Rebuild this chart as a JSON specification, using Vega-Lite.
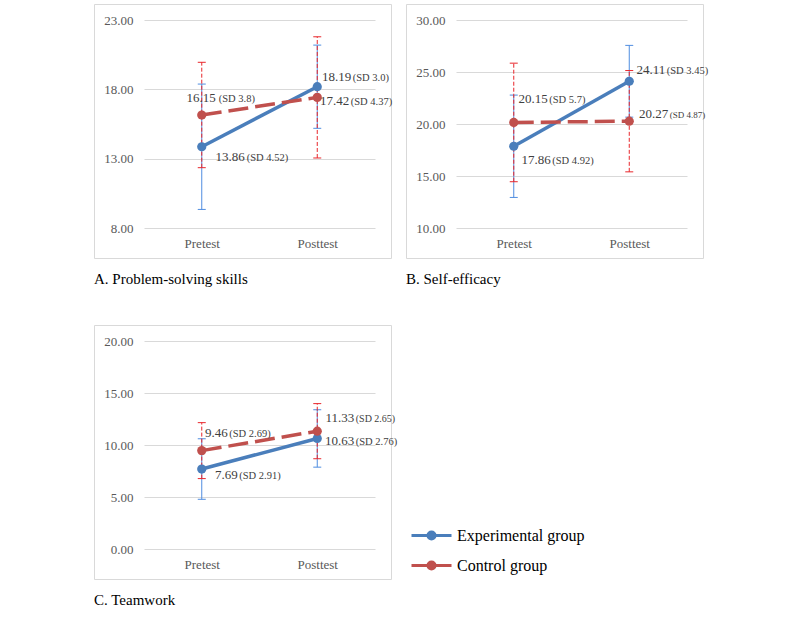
{
  "$schema": "https://vega.github.io/schema/vega-lite/v6.json",
  "background": "white",
  "padding": {"left": 93, "top": 3, "right": 5, "bottom": 5},
  "datasets": {
    "d": [
      {"panel": "A", "group": "Experimental group", "time": "Pretest", "mean": 13.86, "lo": 9.34, "hi": 18.38, "sdl": "(SD 4.52)"},
      {"panel": "A", "group": "Experimental group", "time": "Posttest", "mean": 18.19, "lo": 15.19, "hi": 21.19, "sdl": "(SD 3.0)"},
      {"panel": "A", "group": "Control group", "time": "Pretest", "mean": 16.15, "lo": 12.35, "hi": 19.95, "sdl": "(SD 3.8)"},
      {"panel": "A", "group": "Control group", "time": "Posttest", "mean": 17.42, "lo": 13.05, "hi": 21.79, "sdl": "(SD 4.37)"},
      {"panel": "B", "group": "Experimental group", "time": "Pretest", "mean": 17.86, "lo": 12.94, "hi": 22.78, "sdl": "(SD 4.92)"},
      {"panel": "B", "group": "Experimental group", "time": "Posttest", "mean": 24.11, "lo": 20.66, "hi": 27.56, "sdl": "(SD 3.45)"},
      {"panel": "B", "group": "Control group", "time": "Pretest", "mean": 20.15, "lo": 14.45, "hi": 25.85, "sdl": "(SD 5.7)"},
      {"panel": "B", "group": "Control group", "time": "Posttest", "mean": 20.27, "lo": 15.40, "hi": 25.14, "sdl": "(SD 4.87)"},
      {"panel": "C", "group": "Experimental group", "time": "Pretest", "mean": 7.69, "lo": 4.78, "hi": 10.60, "sdl": "(SD 2.91)"},
      {"panel": "C", "group": "Experimental group", "time": "Posttest", "mean": 10.63, "lo": 7.87, "hi": 13.39, "sdl": "(SD 2.76)"},
      {"panel": "C", "group": "Control group", "time": "Pretest", "mean": 9.46, "lo": 6.77, "hi": 12.15, "sdl": "(SD 2.69)"},
      {"panel": "C", "group": "Control group", "time": "Posttest", "mean": 11.33, "lo": 8.68, "hi": 13.98, "sdl": "(SD 2.65)"}
    ]
  },
  "columns": 2,
  "spacing": {"row": 67, "column": 15},
  "bounds": "flush",
  "concat": [
    {
      "width": 297, "height": 254,
      "title": "A. Problem-solving skills",
      "data": {"name": "d"},
      "transform": [{"filter": "datum.panel == 'A'"}],
      "encoding": {
        "x": {"field": "time", "type": "nominal", "scale": {"type": "point", "domain": ["Pretest", "Posttest"], "range": [50, 281], "padding": 0.5}, "axis": {"title": null, "labelAngle": 0, "offset": -26, "labelPadding": 5, "grid": false}},
        "y": {"field": "mean", "type": "quantitative", "scale": {"domain": [8, 23], "nice": false, "zero": false, "range": [224, 16]}, "axis": {"values": [8, 13, 18, 23], "format": ".2f", "title": null, "offset": -43, "labelPadding": 4, "grid": true}}
      },
      "layer": [
        {"transform": [{"filter": "datum.group == 'Experimental group'"}], "mark": {"type": "errorbar", "color": "#4F8DE0", "thickness": 1, "ticks": {"size": 8, "opacity": 1}, "rule": {"opacity": 1}}, "encoding": {"y": {"field": "lo", "type": "quantitative", "scale": {"domain": [8, 23], "nice": false, "zero": false, "range": [224, 16]}, "axis": {"values": [8, 13, 18, 23], "format": ".2f", "title": null, "offset": -43, "labelPadding": 4, "grid": true}}, "y2": {"field": "hi"}}},
        {"transform": [{"filter": "datum.group == 'Control group'"}], "mark": {"type": "errorbar", "color": "#E8262B", "thickness": 1, "ticks": {"size": 8, "opacity": 1}, "rule": {"strokeDash": [4, 2], "opacity": 1}}, "encoding": {"y": {"field": "lo", "type": "quantitative", "scale": {"domain": [8, 23], "nice": false, "zero": false, "range": [224, 16]}, "axis": {"values": [8, 13, 18, 23], "format": ".2f", "title": null, "offset": -43, "labelPadding": 4, "grid": true}}, "y2": {"field": "hi"}}},
        {"transform": [{"filter": "datum.group == 'Experimental group'"}], "mark": {"type": "line", "strokeWidth": 3.5}, "encoding": {"color": {"field": "group", "type": "nominal", "scale": {"domain": ["Experimental group", "Control group"], "range": ["#4A7EBB", "#C0504D"]}, "legend": {"title": null}}}},
        {"transform": [{"filter": "datum.group == 'Control group'"}], "mark": {"type": "line", "strokeWidth": 3.5, "strokeDash": [20, 7]}, "encoding": {"color": {"field": "group", "type": "nominal", "scale": {"domain": ["Experimental group", "Control group"], "range": ["#4A7EBB", "#C0504D"]}, "legend": {"title": null}}}},
        {"mark": {"type": "point", "filled": true, "size": 85, "opacity": 1}, "encoding": {"color": {"field": "group", "type": "nominal", "scale": {"domain": ["Experimental group", "Control group"], "range": ["#4A7EBB", "#C0504D"]}, "legend": {"title": null}}}},
        {"transform": [{"filter": "datum.group == 'Experimental group' && datum.time == 'Pretest'"}], "mark": {"type": "text", "align": "right", "baseline": "alphabetic", "dx": 43, "dy": 14.5, "fontSize": 13}, "encoding": {"text": {"field": "mean", "format": ".2f"}}},
        {"transform": [{"filter": "datum.group == 'Experimental group' && datum.time == 'Pretest'"}], "mark": {"type": "text", "align": "left", "baseline": "alphabetic", "dx": 45, "dy": 14.5, "fontSize": 10.5}, "encoding": {"text": {"field": "sdl"}}},
        {"transform": [{"filter": "datum.group == 'Control group' && datum.time == 'Pretest'"}], "mark": {"type": "text", "align": "right", "baseline": "alphabetic", "dx": 14, "dy": -12.5, "fontSize": 13}, "encoding": {"text": {"field": "mean", "format": ".2f"}}},
        {"transform": [{"filter": "datum.group == 'Control group' && datum.time == 'Pretest'"}], "mark": {"type": "text", "align": "left", "baseline": "alphabetic", "dx": 17, "dy": -12.5, "fontSize": 10.5}, "encoding": {"text": {"field": "sdl"}}},
        {"transform": [{"filter": "datum.group == 'Experimental group' && datum.time == 'Posttest'"}], "mark": {"type": "text", "align": "right", "baseline": "alphabetic", "dx": 34, "dy": -5.5, "fontSize": 13}, "encoding": {"text": {"field": "mean", "format": ".2f"}}},
        {"transform": [{"filter": "datum.group == 'Experimental group' && datum.time == 'Posttest'"}], "mark": {"type": "text", "align": "left", "baseline": "alphabetic", "dx": 35.5, "dy": -5.5, "fontSize": 10.5}, "encoding": {"text": {"field": "sdl"}}},
        {"transform": [{"filter": "datum.group == 'Control group' && datum.time == 'Posttest'"}], "mark": {"type": "text", "align": "right", "baseline": "alphabetic", "dx": 32, "dy": 7.5, "fontSize": 13}, "encoding": {"text": {"field": "mean", "format": ".2f"}}},
        {"transform": [{"filter": "datum.group == 'Control group' && datum.time == 'Posttest'"}], "mark": {"type": "text", "align": "left", "baseline": "alphabetic", "dx": 33.5, "dy": 7.5, "fontSize": 10.5}, "encoding": {"text": {"field": "sdl"}}}
      ]
    },
    {
      "width": 297, "height": 254,
      "title": "B. Self-efficacy",
      "data": {"name": "d"},
      "transform": [{"filter": "datum.panel == 'B'"}],
      "encoding": {
        "x": {"field": "time", "type": "nominal", "scale": {"type": "point", "domain": ["Pretest", "Posttest"], "range": [50, 281], "padding": 0.5}, "axis": {"title": null, "labelAngle": 0, "offset": -26, "labelPadding": 5, "grid": false}},
        "y": {"field": "mean", "type": "quantitative", "scale": {"domain": [10, 30], "nice": false, "zero": false, "range": [224, 16]}, "axis": {"values": [10, 15, 20, 25, 30], "format": ".2f", "title": null, "offset": -43, "labelPadding": 4, "grid": true}}
      },
      "layer": [
        {"transform": [{"filter": "datum.group == 'Experimental group'"}], "mark": {"type": "errorbar", "color": "#4F8DE0", "thickness": 1, "ticks": {"size": 8, "opacity": 1}, "rule": {"opacity": 1}}, "encoding": {"y": {"field": "lo", "type": "quantitative", "scale": {"domain": [10, 30], "nice": false, "zero": false, "range": [224, 16]}, "axis": {"values": [10, 15, 20, 25, 30], "format": ".2f", "title": null, "offset": -43, "labelPadding": 4, "grid": true}}, "y2": {"field": "hi"}}},
        {"transform": [{"filter": "datum.group == 'Control group'"}], "mark": {"type": "errorbar", "color": "#E8262B", "thickness": 1, "ticks": {"size": 8, "opacity": 1}, "rule": {"strokeDash": [4, 2], "opacity": 1}}, "encoding": {"y": {"field": "lo", "type": "quantitative", "scale": {"domain": [10, 30], "nice": false, "zero": false, "range": [224, 16]}, "axis": {"values": [10, 15, 20, 25, 30], "format": ".2f", "title": null, "offset": -43, "labelPadding": 4, "grid": true}}, "y2": {"field": "hi"}}},
        {"transform": [{"filter": "datum.group == 'Experimental group'"}], "mark": {"type": "line", "strokeWidth": 3.5}, "encoding": {"color": {"field": "group", "type": "nominal", "scale": {"domain": ["Experimental group", "Control group"], "range": ["#4A7EBB", "#C0504D"]}, "legend": {"title": null}}}},
        {"transform": [{"filter": "datum.group == 'Control group'"}], "mark": {"type": "line", "strokeWidth": 3.5, "strokeDash": [20, 7]}, "encoding": {"color": {"field": "group", "type": "nominal", "scale": {"domain": ["Experimental group", "Control group"], "range": ["#4A7EBB", "#C0504D"]}, "legend": {"title": null}}}},
        {"mark": {"type": "point", "filled": true, "size": 85, "opacity": 1}, "encoding": {"color": {"field": "group", "type": "nominal", "scale": {"domain": ["Experimental group", "Control group"], "range": ["#4A7EBB", "#C0504D"]}, "legend": {"title": null}}}},
        {"transform": [{"filter": "datum.group == 'Experimental group' && datum.time == 'Pretest'"}], "mark": {"type": "text", "align": "right", "baseline": "alphabetic", "dx": 37, "dy": 17.5, "fontSize": 13}, "encoding": {"text": {"field": "mean", "format": ".2f"}}},
        {"transform": [{"filter": "datum.group == 'Experimental group' && datum.time == 'Pretest'"}], "mark": {"type": "text", "align": "left", "baseline": "alphabetic", "dx": 38.5, "dy": 17.5, "fontSize": 10.5}, "encoding": {"text": {"field": "sdl"}}},
        {"transform": [{"filter": "datum.group == 'Control group' && datum.time == 'Pretest'"}], "mark": {"type": "text", "align": "right", "baseline": "alphabetic", "dx": 34, "dy": -19.5, "fontSize": 13}, "encoding": {"text": {"field": "mean", "format": ".2f"}}},
        {"transform": [{"filter": "datum.group == 'Control group' && datum.time == 'Pretest'"}], "mark": {"type": "text", "align": "left", "baseline": "alphabetic", "dx": 35.5, "dy": -19.5, "fontSize": 10.5}, "encoding": {"text": {"field": "sdl"}}},
        {"transform": [{"filter": "datum.group == 'Experimental group' && datum.time == 'Posttest'"}], "mark": {"type": "text", "align": "right", "baseline": "alphabetic", "dx": 36, "dy": -7.5, "fontSize": 13}, "encoding": {"text": {"field": "mean", "format": ".2f"}}},
        {"transform": [{"filter": "datum.group == 'Experimental group' && datum.time == 'Posttest'"}], "mark": {"type": "text", "align": "left", "baseline": "alphabetic", "dx": 37.5, "dy": -7.5, "fontSize": 10.5}, "encoding": {"text": {"field": "sdl"}}},
        {"transform": [{"filter": "datum.group == 'Control group' && datum.time == 'Posttest'"}], "mark": {"type": "text", "align": "right", "baseline": "alphabetic", "dx": 39, "dy": -3.5, "fontSize": 13}, "encoding": {"text": {"field": "mean", "format": ".2f"}}},
        {"transform": [{"filter": "datum.group == 'Control group' && datum.time == 'Posttest'"}], "mark": {"type": "text", "align": "left", "baseline": "alphabetic", "dx": 40.5, "dy": -3.5, "fontSize": 9}, "encoding": {"text": {"field": "sdl"}}}
      ]
    },
    {
      "width": 297, "height": 254,
      "title": "C. Teamwork",
      "data": {"name": "d"},
      "transform": [{"filter": "datum.panel == 'C'"}],
      "encoding": {
        "x": {"field": "time", "type": "nominal", "scale": {"type": "point", "domain": ["Pretest", "Posttest"], "range": [50, 281], "padding": 0.5}, "axis": {"title": null, "labelAngle": 0, "offset": -26, "labelPadding": 5, "grid": false}},
        "y": {"field": "mean", "type": "quantitative", "scale": {"domain": [0, 20], "nice": false, "zero": false, "range": [224, 16]}, "axis": {"values": [0, 5, 10, 15, 20], "format": ".2f", "title": null, "offset": -43, "labelPadding": 4, "grid": true}}
      },
      "layer": [
        {"transform": [{"filter": "datum.group == 'Experimental group'"}], "mark": {"type": "errorbar", "color": "#4F8DE0", "thickness": 1, "ticks": {"size": 8, "opacity": 1}, "rule": {"opacity": 1}}, "encoding": {"y": {"field": "lo", "type": "quantitative", "scale": {"domain": [0, 20], "nice": false, "zero": false, "range": [224, 16]}, "axis": {"values": [0, 5, 10, 15, 20], "format": ".2f", "title": null, "offset": -43, "labelPadding": 4, "grid": true}}, "y2": {"field": "hi"}}},
        {"transform": [{"filter": "datum.group == 'Control group'"}], "mark": {"type": "errorbar", "color": "#E8262B", "thickness": 1, "ticks": {"size": 8, "opacity": 1}, "rule": {"strokeDash": [4, 2], "opacity": 1}}, "encoding": {"y": {"field": "lo", "type": "quantitative", "scale": {"domain": [0, 20], "nice": false, "zero": false, "range": [224, 16]}, "axis": {"values": [0, 5, 10, 15, 20], "format": ".2f", "title": null, "offset": -43, "labelPadding": 4, "grid": true}}, "y2": {"field": "hi"}}},
        {"transform": [{"filter": "datum.group == 'Experimental group'"}], "mark": {"type": "line", "strokeWidth": 3.5}, "encoding": {"color": {"field": "group", "type": "nominal", "scale": {"domain": ["Experimental group", "Control group"], "range": ["#4A7EBB", "#C0504D"]}, "legend": {"title": null}}}},
        {"transform": [{"filter": "datum.group == 'Control group'"}], "mark": {"type": "line", "strokeWidth": 3.5, "strokeDash": [20, 7]}, "encoding": {"color": {"field": "group", "type": "nominal", "scale": {"domain": ["Experimental group", "Control group"], "range": ["#4A7EBB", "#C0504D"]}, "legend": {"title": null}}}},
        {"mark": {"type": "point", "filled": true, "size": 85, "opacity": 1}, "encoding": {"color": {"field": "group", "type": "nominal", "scale": {"domain": ["Experimental group", "Control group"], "range": ["#4A7EBB", "#C0504D"]}, "legend": {"title": null}}}},
        {"transform": [{"filter": "datum.group == 'Experimental group' && datum.time == 'Pretest'"}], "mark": {"type": "text", "align": "right", "baseline": "alphabetic", "dx": 36, "dy": 9.5, "fontSize": 13}, "encoding": {"text": {"field": "mean", "format": ".2f"}}},
        {"transform": [{"filter": "datum.group == 'Experimental group' && datum.time == 'Pretest'"}], "mark": {"type": "text", "align": "left", "baseline": "alphabetic", "dx": 37.5, "dy": 9.5, "fontSize": 10.5}, "encoding": {"text": {"field": "sdl"}}},
        {"transform": [{"filter": "datum.group == 'Control group' && datum.time == 'Pretest'"}], "mark": {"type": "text", "align": "right", "baseline": "alphabetic", "dx": 26, "dy": -13.5, "fontSize": 13}, "encoding": {"text": {"field": "mean", "format": ".2f"}}},
        {"transform": [{"filter": "datum.group == 'Control group' && datum.time == 'Pretest'"}], "mark": {"type": "text", "align": "left", "baseline": "alphabetic", "dx": 27.5, "dy": -13.5, "fontSize": 10.5}, "encoding": {"text": {"field": "sdl"}}},
        {"transform": [{"filter": "datum.group == 'Experimental group' && datum.time == 'Posttest'"}], "mark": {"type": "text", "align": "right", "baseline": "alphabetic", "dx": 37, "dy": 6.5, "fontSize": 13}, "encoding": {"text": {"field": "mean", "format": ".2f"}}},
        {"transform": [{"filter": "datum.group == 'Experimental group' && datum.time == 'Posttest'"}], "mark": {"type": "text", "align": "left", "baseline": "alphabetic", "dx": 38.5, "dy": 6.5, "fontSize": 10.5}, "encoding": {"text": {"field": "sdl"}}},
        {"transform": [{"filter": "datum.group == 'Control group' && datum.time == 'Posttest'"}], "mark": {"type": "text", "align": "right", "baseline": "alphabetic", "dx": 37, "dy": -9.5, "fontSize": 13}, "encoding": {"text": {"field": "mean", "format": ".2f"}}},
        {"transform": [{"filter": "datum.group == 'Control group' && datum.time == 'Posttest'"}], "mark": {"type": "text", "align": "left", "baseline": "alphabetic", "dx": 38.5, "dy": -9.5, "fontSize": 10}, "encoding": {"text": {"field": "sdl"}}}
      ]
    }
  ],
  "resolve": {
    "scale": {"color": "shared", "x": "independent", "y": "independent"},
    "legend": {"color": "shared"}
  },
  "config": {
    "view": {"stroke": "#D9D9D9", "strokeWidth": 1},
    "axis": {"labelFont": "Liberation Serif", "labelFontSize": 13, "labelColor": "#595959", "domain": false, "ticks": false, "gridColor": "#D9D9D9", "gridWidth": 1},
    "text": {"font": "Liberation Serif", "fill": "#404040"},
    "title": {"font": "Liberation Serif", "fontSize": 15, "fontWeight": "normal", "color": "#000000", "orient": "bottom", "anchor": "start", "frame": "group", "offset": 14},
    "legend": {"orient": "none", "legendX": 326, "legendY": 520, "padding": 0, "offset": 0, "labelFont": "Liberation Serif", "labelFontSize": 16, "labelColor": "#000000", "symbolType": "M-2,0H2M0.35,0A0.35,0.35,0,1,1,-0.35,0A0.35,0.35,0,1,1,0.35,0", "symbolSize": 400, "symbolStrokeWidth": 3, "symbolFillColor": "#888888", "labelOffset": 14, "rowPadding": 9, "direction": "vertical"}
  }
}
